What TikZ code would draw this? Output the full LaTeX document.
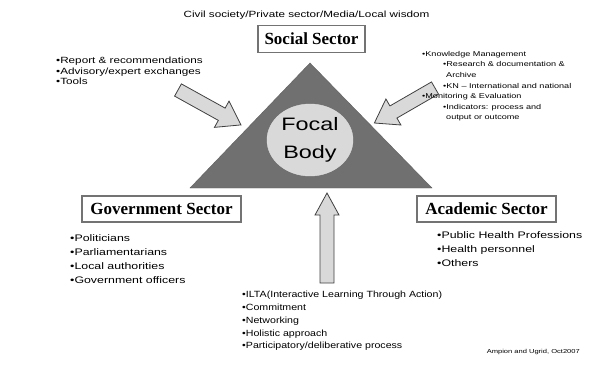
\documentclass[tikz,border=0pt]{standalone}
\usepackage{fontspec}
\setmainfont{Liberation Serif}
\newfontfamily\listfont[FakeStretch=1.3]{Liberation Sans}
\newfontfamily\plainfont[FakeStretch=1.18]{Liberation Sans}
\usetikzlibrary{positioning,shapes.geometric}

\definecolor{triangleGray}{HTML}{707070}
\definecolor{arrowGray}{HTML}{D9D9D9}

\tikzset{
  sectorbox/.style={draw=black!55, line width=1.4pt, fill=white, inner sep=0pt,
    minimum height=26pt, font=\fontsize{17}{20}\selectfont\bfseries},
  listnode/.style={anchor=north west, inner sep=0pt, align=left},
  blockarrow/.style={fill=arrowGray, draw=black!75, line width=0.8pt, line join=miter},
}

\begin{document}
\begin{tikzpicture}[x=1pt, y=-1pt]
  \useasboundingbox (0,0) rectangle (589,368);

  % focal body
  \draw[fill=triangleGray, draw=triangleGray!85!black] (310,63) -- (432,188) -- (190,188) -- cycle;
  \node[ellipse, fill=arrowGray, draw=black!12, minimum width=86pt, minimum height=72pt,
    inner sep=0pt, align=center, font=\listfont\fontsize{18}{28}\selectfont] (focal) at (310,140) {Focal\\Body};

  % block arrows: tail x / tail y / angle / length / head half width
  \foreach \tx/\ty/\ang/\len/\hw in {178/90/-29/72/15, 435/88/-150/70/15, 327/283/90/90/12}{
    \draw[blockarrow, shift={(\tx,\ty)}, rotate=\ang]
      (0,-7) -- ({\len-22},-7) -- ({\len-22},-\hw) -- (\len,0) -- ({\len-22},\hw) -- ({\len-22},7) -- (0,7) -- cycle;
  }

  % sectors
  \node[font=\listfont\fontsize{9}{11}\selectfont] (stakeholders) at (306.5,15) {Civil society/Private sector/Media/Local wisdom};
  \node[sectorbox, minimum width=107pt, minimum height=27pt] (social) at (311.5,39) {Social Sector};
  \node[sectorbox, minimum width=159pt] (government) at (161.5,209) {Government Sector};
  \node[sectorbox, minimum width=139pt] (academic) at (486.5,209) {Academic Sector};

  % lists
  \node[listnode, font=\listfont\fontsize{9}{10.5}\selectfont] (outputs) at (56,57)
    {•Report \& recommendations\\•Advisory/expert exchanges\\•Tools};
  \node[listnode, font=\listfont\fontsize{7}{10.6}\selectfont] (knowledge) at (422,51)
    {•Knowledge Management\\
     \hspace*{21pt}•Research \& documentation \&\\
     \hspace*{24pt}Archive\\
     \hspace*{21pt}•KN – International and national\\
     •Monitoring \& Evaluation\\
     \hspace*{21pt}•Indicators: process and\\
     \hspace*{24pt}output or outcome};
  \node[listnode, font=\listfont\fontsize{9.5}{14}\selectfont] (politicians) at (70,234)
    {•Politicians\\•Parliamentarians\\•Local authorities\\•Government officers};
  \node[listnode, font=\listfont\fontsize{9.5}{14}\selectfont] (professions) at (437,231)
    {•Public Health Professions\\•Health personnel\\•Others};
  \node[listnode, font=\plainfont\fontsize{9}{12.8}\selectfont] (approach) at (242,291)
    {•ILTA(Interactive Learning Through Action)\\•Commitment\\•Networking\\•Holistic approach\\•Participatory/deliberative process};
  \node[listnode, anchor=north east, font=\listfont\fontsize{5.8}{7}\selectfont] (credit) at (580,349) {Ampion and Ugrid, Oct2007};
\end{tikzpicture}
\end{document}
